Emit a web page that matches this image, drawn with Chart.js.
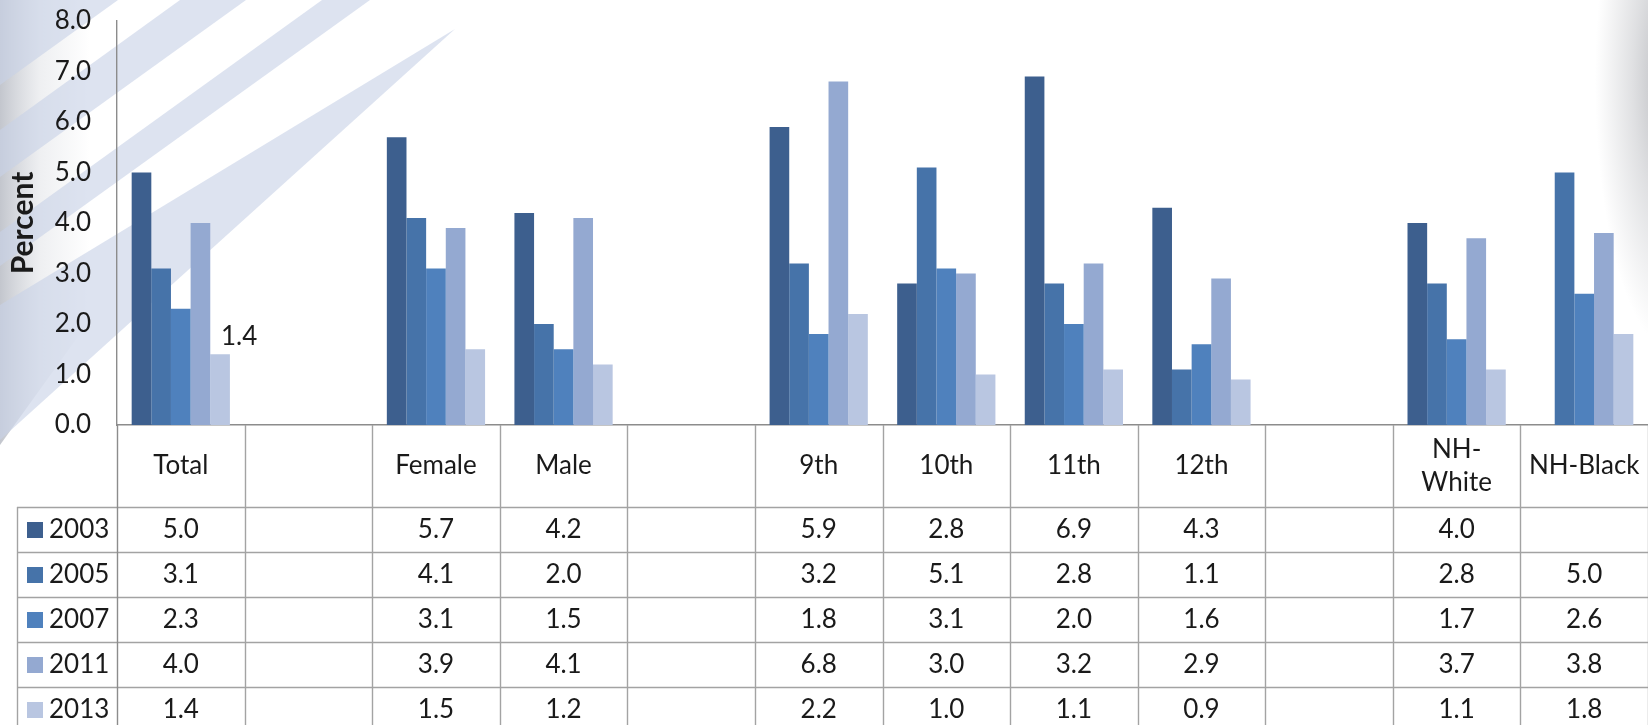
<!DOCTYPE html>
<html>
<head>
<meta charset="utf-8">
<script src="https://cdn.jsdelivr.net/npm/chart.js@4.4.1/dist/chart.umd.min.js"></script>
<style>
  html, body { margin: 0; padding: 0; background: #ffffff; overflow: hidden; }
  #wrap { width: 1648px; height: 725px; position: relative; }
</style>
</head>
<body>
<div id="wrap"><canvas id="chart" width="1648" height="725"></canvas></div>
<script>
// Categories along the x axis (blank entries are spacer columns)
const categories = ['Total', '', 'Female', 'Male', '', '9th', '10th', '11th', '12th', '', 'NH-White', 'NH-Black'];
// Header text split over two lines where the cell wraps
const headerLines = { 'NH-White': ['NH-', 'White'] };
const years = ['2003', '2005', '2007', '2011', '2013'];
const v2003 = [5.0, null, 5.7, 4.2, null, 5.9, 2.8, 6.9, 4.3, null, 4.0, null];
const v2005 = [3.1, null, 4.1, 2.0, null, 3.2, 5.1, 2.8, 1.1, null, 2.8, 5.0];
const v2007 = [2.3, null, 3.1, 1.5, null, 1.8, 3.1, 2.0, 1.6, null, 1.7, 2.6];
const v2011 = [4.0, null, 3.9, 4.1, null, 6.8, 3.0, 3.2, 2.9, null, 3.7, 3.8];
const v2013 = [1.4, null, 1.5, 1.2, null, 2.2, 1.0, 1.1, 0.9, null, 1.1, 1.8];
const yTicks = [0, 1, 2, 3, 4, 5, 6, 7, 8];
const yTitle = 'Percent';
// Bars that carry a value label: [series index, category index]
const labelledBars = [[4, 0]];

const series = [v2003, v2005, v2007, v2011, v2013];
const colors = ['#3d5f8e', '#4673a9', '#4f81bd', '#94a9d1', '#b9c6e1'];
const FONT = 'Lato, "Open Sans", sans-serif';
const TEXT = '#1a1a1a';
const LINE = '#a3a3a3';
const TXT_SIZE = 26;

// Slide-style backdrop: soft grey edges and pale diagonal bands
const backdrop = {
  id: 'backdrop',
  beforeDraw(chart) {
    const { ctx, width, height } = chart;
    ctx.save();
    ctx.fillStyle = '#ffffff';
    ctx.fillRect(0, 0, width, height);

    // grey shading on the left edge
    const gl = ctx.createLinearGradient(0, 0, 90, 0);
    gl.addColorStop(0, 'rgba(155, 160, 172, 0.6)');
    gl.addColorStop(0.45, 'rgba(180, 185, 195, 0.22)');
    gl.addColorStop(1, 'rgba(180, 185, 195, 0)');
    ctx.fillStyle = gl;
    ctx.beginPath();
    ctx.moveTo(0, 0); ctx.lineTo(90, 0); ctx.lineTo(90, 320); ctx.lineTo(0, 445);
    ctx.closePath();
    ctx.fill();

    ctx.fillStyle = 'rgba(200, 210, 230, 0.62)';
    const bands = [
      [[0, 0], [118, 0], [0, 85]],
      [[180, 0], [246, 0], [0, 177], [0, 130]],
      [[322, 0], [370, 0], [0, 266], [0, 232]],
      [[455, 29], [0, 440], [0, 305]]
    ];
    bands.forEach(p => {
      ctx.beginPath();
      ctx.moveTo(p[0][0], p[0][1]);
      for (let i = 1; i < p.length; i++) ctx.lineTo(p[i][0], p[i][1]);
      ctx.closePath();
      ctx.fill();
    });

    // grey shading along the top-right edge
    ctx.save();
    ctx.translate(1675, 80);
    ctx.scale(1, 3.4);
    const gr = ctx.createRadialGradient(0, 0, 5, 0, 0, 80);
    gr.addColorStop(0, 'rgba(145, 147, 153, 0.7)');
    gr.addColorStop(0.5, 'rgba(165, 167, 173, 0.35)');
    gr.addColorStop(1, 'rgba(170, 172, 178, 0)');
    ctx.fillStyle = gr;
    ctx.fillRect(-90, -30, 180, 110);
    ctx.restore();
    ctx.restore();
  }
};

// Rotated axis title, centred on the plot height
const axisTitle = {
  id: 'axisTitle',
  afterDraw(chart) {
    const { ctx, chartArea: a } = chart;
    ctx.save();
    ctx.translate(23, (a.top + a.bottom) / 2);
    ctx.rotate(-Math.PI / 2);
    ctx.fillStyle = TEXT;
    ctx.font = 'bold 30px ' + FONT;
    ctx.textAlign = 'center';
    ctx.textBaseline = 'middle';
    ctx.fillText(yTitle, 0, 0);
    ctx.restore();
  }
};

// Data table drawn under the plot, aligned with the category scale
const dataTable = {
  id: 'dataTable',
  afterDraw(chart) {
    const { ctx, chartArea: a, scales: { x } } = chart;
    const n = categories.length;
    const step = (x.right - x.left) / n;
    const top = a.bottom;
    const headerH = 82, rowH = 45;
    const bottom = chart.height + 5;
    const keyLeft = 17;

    ctx.save();
    ctx.strokeStyle = LINE;
    ctx.lineWidth = 1.4;
    // column borders
    for (let i = 1; i <= n; i++) {
      const xx = Math.round(x.left + i * step) + 0.5;
      ctx.beginPath(); ctx.moveTo(xx, top); ctx.lineTo(xx, bottom); ctx.stroke();
    }
    // left border of the legend column
    ctx.beginPath(); ctx.moveTo(keyLeft + 0.5, top + headerH); ctx.lineTo(keyLeft + 0.5, bottom); ctx.stroke();
    // row borders
    for (let r = 0; r < years.length; r++) {
      const yy = Math.round(top + headerH + r * rowH) + 0.5;
      ctx.beginPath(); ctx.moveTo(keyLeft, yy); ctx.lineTo(chart.width, yy); ctx.stroke();
    }
    // axis line continued through the table
    ctx.strokeStyle = '#8c8c8c';
    ctx.beginPath(); ctx.moveTo(Math.round(x.left) + 0.5, top); ctx.lineTo(Math.round(x.left) + 0.5, bottom); ctx.stroke();

    ctx.fillStyle = TEXT;
    ctx.font = TXT_SIZE + 'px ' + FONT;
    ctx.textAlign = 'center';
    ctx.textBaseline = 'middle';
    // header cells
    categories.forEach((c, i) => {
      const cx = x.left + (i + 0.5) * step;
      const lines = headerLines[c] || [c];
      const lh = 33;
      lines.forEach((t, k) => {
        ctx.fillText(t, cx, top + headerH / 2 + (k - (lines.length - 1) / 2) * lh);
      });
    });
    // value rows with legend keys
    years.forEach((yr, r) => {
      const cy = top + headerH + r * rowH + rowH / 2;
      ctx.fillStyle = colors[r];
      ctx.fillRect(27, Math.round(cy - 8), 16, 16);
      ctx.fillStyle = TEXT;
      ctx.textAlign = 'left';
      ctx.fillText(yr, 49, cy);
      ctx.textAlign = 'center';
      series[r].forEach((v, i) => {
        if (v === null) return;
        ctx.fillText(v.toFixed(1), x.left + (i + 0.5) * step, cy);
      });
    });
    ctx.restore();
  }
};

// Value labels next to selected bars
const barLabels = {
  id: 'barLabels',
  afterDatasetsDraw(chart) {
    const { ctx } = chart;
    ctx.save();
    ctx.fillStyle = TEXT;
    ctx.font = TXT_SIZE + 'px ' + FONT;
    ctx.textAlign = 'center';
    ctx.textBaseline = 'middle';
    labelledBars.forEach(([s, i]) => {
      const bar = chart.getDatasetMeta(s).data[i];
      ctx.fillText(series[s][i].toFixed(1), bar.x + 19, bar.y - 18);
    });
    ctx.restore();
  }
};

new Chart(document.getElementById('chart'), {
  type: 'bar',
  data: {
    labels: categories,
    datasets: years.map((y, i) => ({
      label: y,
      data: series[i],
      backgroundColor: colors[i],
      borderWidth: 0,
      categoryPercentage: 0.77,
      barPercentage: 1.0
    }))
  },
  options: {
    responsive: false,
    animation: false,
    layout: { padding: { top: 21, right: 0, bottom: 300, left: 0 } },
    plugins: { legend: { display: false }, tooltip: { enabled: false } },
    scales: {
      x: {
        grid: { display: false, drawTicks: false },
        border: { color: '#8c8c8c', width: 1.4 },
        ticks: { display: false },
        afterFit(s) { s.height = 0; }
      },
      y: {
        min: 0,
        max: 8,
        afterBuildTicks(s) { s.ticks = yTicks.map(v => ({ value: v })); },
        grid: { display: false, drawTicks: false },
        border: { color: '#8c8c8c', width: 1.4 },
        ticks: {
          padding: 26,
          color: TEXT,
          font: { family: FONT, size: TXT_SIZE },
          callback: v => Number(v).toFixed(1)
        },
        afterFit(s) {
          s.width = 117;
          s.paddingTop = 0;
          s.paddingBottom = 0;
        }
      }
    }
  },
  plugins: [backdrop, dataTable, barLabels, axisTitle]
});
</script>
</body>
</html>
